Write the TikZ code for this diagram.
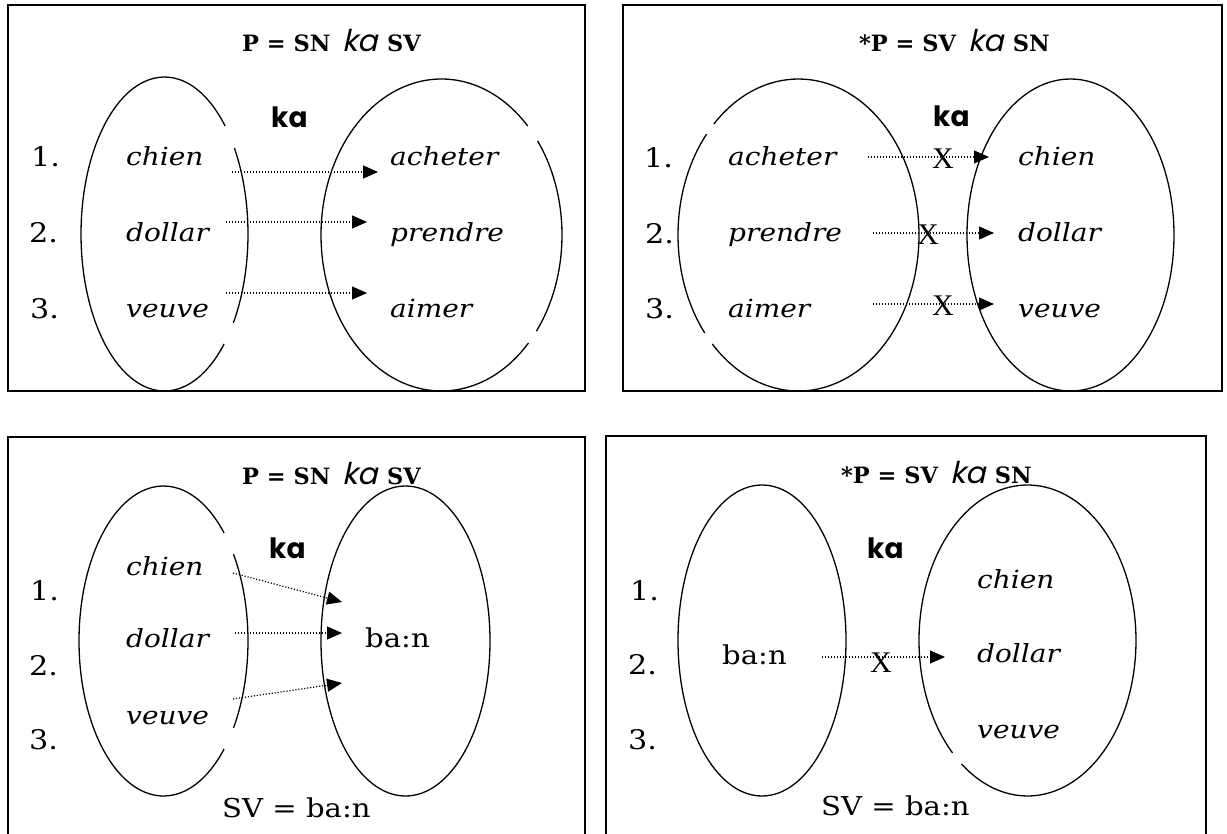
\documentclass[tikz,border=0pt]{standalone}
\usepackage{fontspec}
\setmainfont{DejaVu Serif}[FakeStretch=1.12]
\newfontfamily\titlefont{DejaVu Serif}
\newfontfamily\kafont{Poppins}
\newfontfamily\kaslant{Poppins}[FakeSlant=0.22]
\newfontfamily\crossfont{Liberation Serif}
\usetikzlibrary{arrows.meta}
\begin{document}
\begin{tikzpicture}[x=1pt,y=-1pt,
  frame/.style={line width=1.5pt},
  oval/.style={line width=1.3pt},
  word/.style={font=\fontsize{25}{29}\selectfont\itshape, inner sep=0pt, anchor=base west},
  num/.style={font=\fontsize{27}{31}\selectfont, inner sep=0pt, anchor=base west},
  plain/.style={font=\fontsize{26}{30}\selectfont, inner sep=0pt, anchor=base west},
  kalabel/.style={font=\kafont\fontsize{28}{32}\selectfont\bfseries, inner sep=0pt, anchor=base west},
  title/.style={font=\titlefont\fontsize{22.5}{27}\selectfont, inner sep=0pt, anchor=base west},
  link/.style={line width=1.2pt, dash pattern=on 1.2pt off 1.8pt, -{Triangle[length=15pt,width=13pt]}},
  cross/.style={font=\crossfont\fontsize{30}{34}\selectfont, inner sep=0pt}
]
\useasboundingbox (0,0) rectangle (1227,834);
\newcommand{\ttl}[2]{{\bfseries #1}\hspace*{12pt}{\kaslant\fontsize{30}{34}\selectfont ka}\hspace*{9pt}{\bfseries #2}}

% ================= panel 1 (top left)
\draw[frame] (8,5) rectangle (585,391);
\node[title] (t1) at (242,52) {\ttl{P = SN}{SV}};
\draw[oval] (164.5,234) ++(44.5:83.5 and 157) arc[start angle=44.5, end angle=316.5, x radius=83.5, y radius=157];
\draw[oval] (164.5,234) ++(-33.2:83.5 and 157) arc[start angle=-33.2, end angle=34.5, x radius=83.5, y radius=157];
\draw[oval] (441.5,235) ++(43.8:120.5 and 156) arc[start angle=43.8, end angle=315.7, x radius=120.5, y radius=156];
\draw[oval] (441.5,235) ++(-37.1:120.5 and 156) arc[start angle=-37.1, end angle=38, x radius=120.5, y radius=156];
\node[kalabel] (ka1) at (271,128) {ka};
\node[num] (n11) at (31,167) {1.};
\node[num] (n12) at (29,243) {2.};
\node[num] (n13) at (30,319) {3.};
\node[word] (a11) at (126,166) {chien};
\node[word] (a12) at (126,242) {dollar};
\node[word] (a13) at (126,318) {veuve};
\node[word] (b11) at (390,166) {acheter};
\node[word] (b12) at (390,242) {prendre};
\node[word] (b13) at (390,318) {aimer};
\coordinate (s11) at (232,172); \coordinate (e11) at (378,172);
\coordinate (s12) at (226,222); \coordinate (e12) at (367,222);
\coordinate (s13) at (226,293); \coordinate (e13) at (367,293);
\draw[link] (s11) -- (e11);
\draw[link] (s12) -- (e12);
\draw[link] (s13) -- (e13);

% ================= panel 2 (top right)
\draw[frame] (623,5) rectangle (1222,391);
\node[title] (t2) at (859,52) {{\bfseries *}\ttl{P = SV}{SN}};
\draw[oval] (798.5,235) ++(225.4:120.5 and 156) arc[start angle=225.4, end angle=495.7, x radius=120.5, y radius=156];
\draw[oval] (798.5,235) ++(141.1:120.5 and 156) arc[start angle=141.1, end angle=220.3, x radius=120.5, y radius=156];
\draw[oval] (1070.5,235) ellipse[x radius=103.5, y radius=156];
\node[kalabel] (ka2) at (933,127) {ka};
\node[num] (n21) at (644,168) {1.};
\node[num] (n22) at (645,244) {2.};
\node[num] (n23) at (645,319) {3.};
\node[word] (a21) at (728,166) {acheter};
\node[word] (a22) at (728,242) {prendre};
\node[word] (a23) at (728,318) {aimer};
\node[word] (b21) at (1018,166) {chien};
\node[word] (b22) at (1018,242) {dollar};
\node[word] (b23) at (1018,318) {veuve};
\coordinate (s21) at (868,157); \coordinate (e21) at (989,157);
\coordinate (s22) at (873,233); \coordinate (e22) at (994,233);
\coordinate (s23) at (873,304); \coordinate (e23) at (994,304);
\draw[link] (s21) -- (e21);
\draw[link] (s22) -- (e22);
\draw[link] (s23) -- (e23);
\node[cross] (x21) at (943,159) {X};
\node[cross] (x22) at (928,235) {X};
\node[cross] (x23) at (943,306) {X};

% ================= panel 3 (bottom left)
\draw[frame] (8,840) -- (8,437) -- (585,437) -- (585,840);
\node[title] (t3) at (242,484) {\ttl{P = SN}{SV}};
\draw[oval] (163.5,641) ++(44.2:84.5 and 155) arc[start angle=44.2, end angle=315.8, x radius=84.5, y radius=155];
\draw[oval] (163.5,641) ++(-34.1:84.5 and 155) arc[start angle=-34.1, end angle=34.1, x radius=84.5, y radius=155];
\draw[oval] (405.5,641) ellipse[x radius=84.5, y radius=155];
\node[kalabel] (ka3) at (269,558) {ka};
\node[num] (n31) at (30,600) {1.};
\node[num] (n32) at (29,675) {2.};
\node[num] (n33) at (29,749) {3.};
\node[word] (a31) at (126,575) {chien};
\node[word] (a32) at (126,647) {dollar};
\node[word] (a33) at (126,724) {veuve};
\node[plain] (b31) at (365,647) {ba:n};
\node[plain] (sv3) at (222,817) {SV = ba:n};
\coordinate (s31) at (233,573); \coordinate (e31) at (342,602);
\coordinate (s32) at (235,633); \coordinate (e32) at (342,633);
\coordinate (s33) at (233,699); \coordinate (e33) at (342,683);
\draw[link] (s31) -- (e31);
\draw[link] (s32) -- (e32);
\draw[link] (s33) -- (e33);

% ================= panel 4 (bottom right)
\draw[frame] (606,840) -- (606,436) -- (1206,436) -- (1206,840);
\node[title] (t4) at (841,483) {{\bfseries *}\ttl{P = SV}{SN}};
\draw[oval] (762,640.5) ellipse[x radius=84, y radius=155.5];
\draw[oval] (1027.5,640.5) ++(133.7:108.5 and 155.5) arc[start angle=133.7, end angle=487.4, x radius=108.5, y radius=155.5];
\node[kalabel] (ka4) at (867,558) {ka};
\node[num] (n41) at (630,600) {1.};
\node[num] (n42) at (628,674) {2.};
\node[num] (n43) at (628,749) {3.};
\node[plain] (a41) at (722,664) {ba:n};
\node[word] (b41) at (977,588) {chien};
\node[word] (b42) at (977,662) {dollar};
\node[word] (b43) at (977,738) {veuve};
\node[plain] (sv4) at (821,815) {SV = ba:n};
\coordinate (s41) at (822,657); \coordinate (e41) at (945,657);
\draw[link] (s41) -- (e41);
\node[cross] (x41) at (881,663) {X};
\end{tikzpicture}
\end{document}
